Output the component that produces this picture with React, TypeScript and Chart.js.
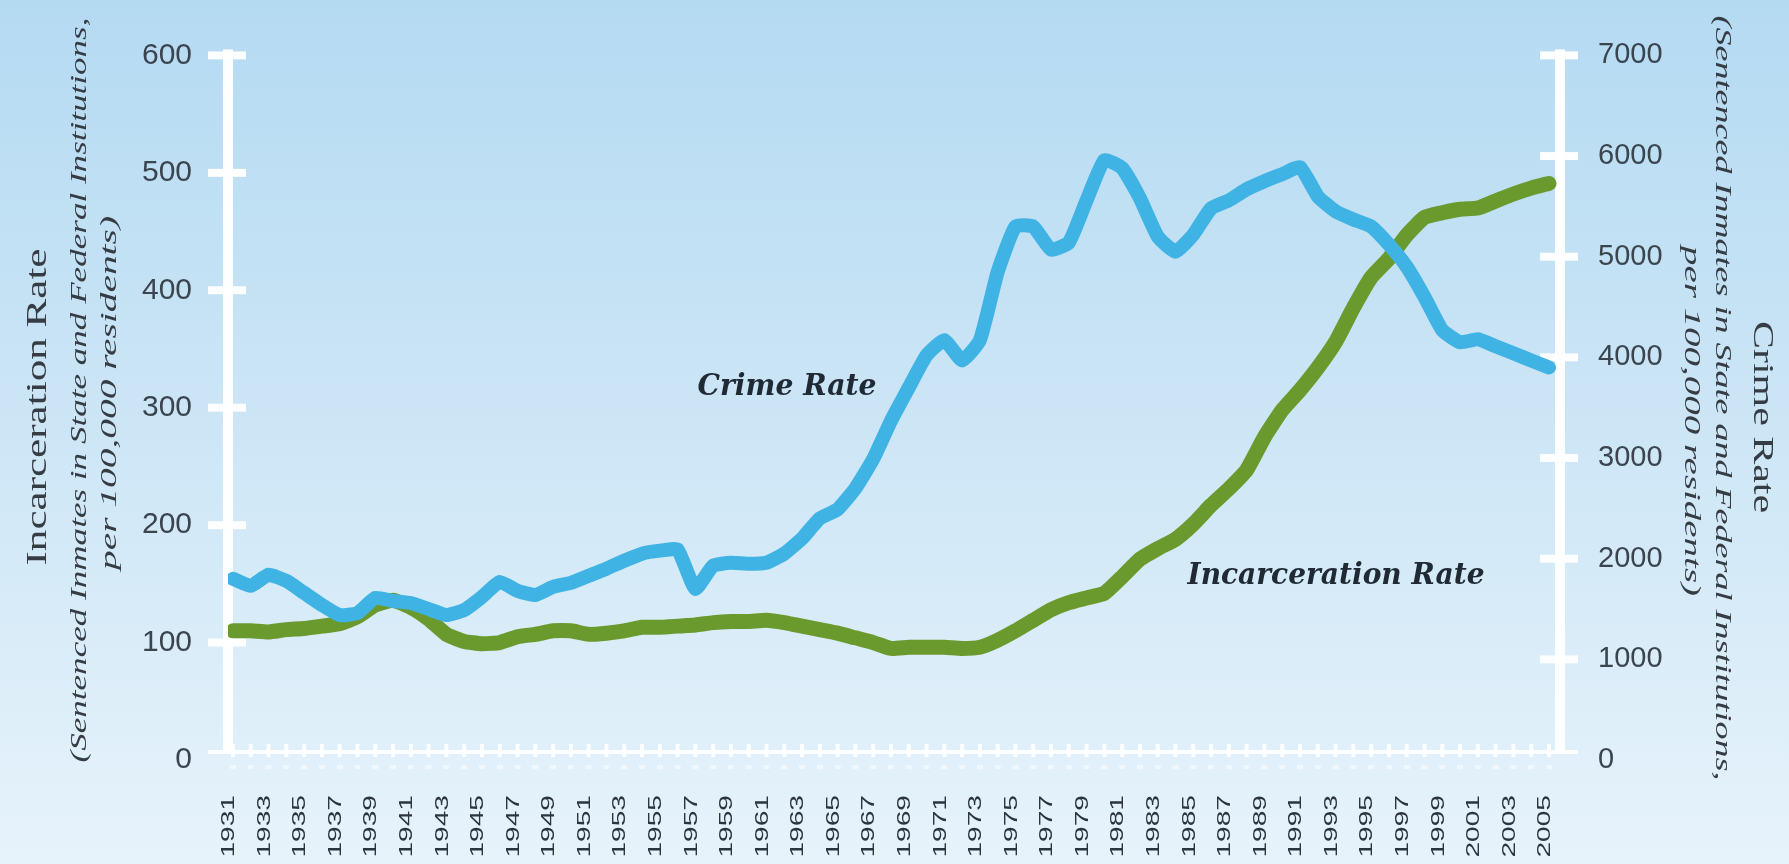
import React, { useEffect, useRef } from "react";
import { Chart, registerables } from "chart.js";

Chart.register(...registerables);

const years = [
  1931, 1932, 1933, 1934, 1935, 1936, 1937, 1938, 1939, 1940,
  1941, 1942, 1943, 1944, 1945, 1946, 1947, 1948, 1949, 1950,
  1951, 1952, 1953, 1954, 1955, 1956, 1957, 1958, 1959, 1960,
  1961, 1962, 1963, 1964, 1965, 1966, 1967, 1968, 1969, 1970,
  1971, 1972, 1973, 1974, 1975, 1976, 1977, 1978, 1979, 1980,
  1981, 1982, 1983, 1984, 1985, 1986, 1987, 1988, 1989, 1990,
  1991, 1992, 1993, 1994, 1995, 1996, 1997, 1998, 1999, 2000,
  2001, 2002, 2003, 2004, 2005,
];

// Crime rate (right axis, per 100,000 residents)
const crimeRate = [
  1800, 1730, 1840, 1780, 1660, 1540, 1440, 1460, 1610, 1580,
  1560, 1500, 1440, 1490, 1620, 1770, 1680, 1640, 1720, 1760,
  1830, 1900, 1980, 2050, 2080, 2090, 1700, 1930, 1960, 1950,
  1960, 2050, 2200, 2400, 2490, 2700, 2990, 3370, 3700, 4020,
  4170, 3970, 4170, 4850, 5300, 5300, 5070, 5140, 5560, 5960,
  5880, 5580, 5200, 5050, 5220, 5480, 5560, 5670, 5750, 5820,
  5890, 5600, 5450, 5370, 5300, 5120, 4900, 4600, 4270, 4150,
  4180, 4110, 4040, 3970, 3900,
];

// Incarceration rate (left axis, per 100,000 residents)
const incarcerationRate = [
  110, 110, 109, 111, 112, 114, 116, 122, 132, 136,
  130, 120, 107, 101, 99, 100, 105, 107, 110, 110,
  107, 108, 110, 113, 113, 114, 115, 117, 118, 118,
  119, 117, 114, 111, 108, 104, 100, 95, 96, 96,
  96, 95, 96, 102, 110, 119, 128, 134, 138, 142,
  156, 171, 180, 188, 201, 217, 231, 247, 275, 298,
  315, 334, 356, 385, 411, 427, 447, 462, 466, 469,
  470, 476, 482, 487, 491,
];

const yearTickLabels = [
  1931, 1933, 1935, 1937, 1939, 1941, 1943, 1945, 1947, 1949,
  1951, 1953, 1955, 1957, 1959, 1961, 1963, 1965, 1967, 1969,
  1971, 1973, 1975, 1977, 1979, 1981, 1983, 1985, 1987, 1989,
  1991, 1993, 1995, 1997, 1999, 2001, 2003, 2005,
];

const leftTitle = "Incarceration Rate";
const rightTitle = "Crime Rate";
const subTitle1 = "(Sentenced Inmates in State and Federal Institutions,";
const subTitle2 = "per 100,000 residents)";
const crimeAnnotation = "Crime Rate";
const incarcerationAnnotation = "Incarceration Rate";

const W = 1789;
const H = 864;

function drawStretched(
  ctx: CanvasRenderingContext2D,
  text: string,
  cx: number,
  cy: number,
  angle: number,
  font: string,
  length: number,
  color: string
) {
  ctx.save();
  ctx.font = font;
  ctx.fillStyle = color;
  ctx.translate(cx, cy);
  ctx.rotate(angle);
  const w = ctx.measureText(text).width;
  ctx.scale(length / w, 1);
  ctx.textAlign = "center";
  ctx.textBaseline = "middle";
  ctx.fillText(text, 0, 0);
  ctx.restore();
}

const decoPlugin = {
  id: "deco",
  beforeDraw(chart: any) {
    const { ctx } = chart;
    const g = ctx.createLinearGradient(0, 0, 0, H);
    g.addColorStop(0, "#b4daf2");
    g.addColorStop(0.5, "#cde6f6");
    g.addColorStop(1, "#e7f3fb");
    ctx.save();
    ctx.fillStyle = g;
    ctx.fillRect(0, 0, W, H);
    ctx.restore();
  },
  beforeDatasetsDraw(chart: any) {
    const { ctx, chartArea, scales } = chart;
    const xs = scales.x;
    ctx.save();
    ctx.fillStyle = "rgba(255,255,255,0.95)";
    const axes = [
      { s: scales.yL, ax: chartArea.left },
      { s: scales.yR, ax: chartArea.right },
    ];
    for (const { s, ax } of axes) {
      ctx.fillRect(ax - 5, s.top - 6, 10, s.bottom - s.top);
      for (const t of s.ticks) {
        const py = s.getPixelForValue(t.value);
        if (t.value === 0) continue;
        ctx.fillRect(ax - 20, py - 4, 38, 8);
      }
    }
    const b = chartArea.bottom;
    for (const yr of years) {
      const px = xs.getPixelForValue(yr);
      ctx.fillStyle = "rgba(255,255,255,0.9)";
      ctx.fillRect(px - 2, b - 16, 4, 13);
      ctx.fillStyle = "rgba(255,255,255,0.55)";
      ctx.fillRect(px - 3, b + 5, 6, 4);
    }
    ctx.fillStyle = "rgba(255,255,255,0.9)";
    ctx.fillRect(chartArea.left - 20, b - 10, chartArea.right - chartArea.left + 38, 4);
    ctx.restore();
  },
  afterDraw(chart: any) {
    const { ctx, scales } = chart;
    const xs = scales.x;
    // x tick labels (rotated, elongated)
    ctx.save();
    ctx.fillStyle = "#2b3540";
    ctx.font = '19px "Liberation Sans", Arial, sans-serif';
    for (const t of xs.ticks) {
      const px = xs.getPixelForValue(t.value);
      ctx.save();
      ctx.translate(px - 4, 795);
      ctx.rotate(-Math.PI / 2);
      ctx.scale(1.48, 1);
      ctx.textAlign = "right";
      ctx.textBaseline = "middle";
      ctx.fillText(String(t.value), 0, 0);
      ctx.restore();
    }
    ctx.restore();

    const titleColor = "#363c44";
    // left titles
    drawStretched(ctx, leftTitle, 38, 407, -Math.PI / 2, '29px "Liberation Serif", serif', 317, titleColor);
    drawStretched(ctx, subTitle1, 80, 390, -Math.PI / 2, 'italic 24px "Liberation Serif", serif', 745, titleColor);
    drawStretched(ctx, subTitle2, 110, 393, -Math.PI / 2, 'italic 24px "Liberation Serif", serif', 354, titleColor);
    // right titles
    drawStretched(ctx, rightTitle, 1762, 417, Math.PI / 2, '29px "Liberation Serif", serif', 192, titleColor);
    drawStretched(ctx, subTitle1, 1722, 398, Math.PI / 2, 'italic 24px "Liberation Serif", serif', 765, titleColor);
    drawStretched(ctx, subTitle2, 1691, 421, Math.PI / 2, 'italic 24px "Liberation Serif", serif', 350, titleColor);

    // annotations
    const annColor = "#1f2a35";
    drawStretched(ctx, crimeAnnotation, 787, 387, 0, 'italic bold 29px "DejaVu Serif", serif', 179, annColor);
    drawStretched(ctx, incarcerationAnnotation, 1336, 576, 0, 'italic bold 29px "DejaVu Serif", serif', 297, annColor);
  },
};

export default function App() {
  const ref = useRef<HTMLCanvasElement | null>(null);

  useEffect(() => {
    document.body.style.margin = "0";
    document.body.style.overflow = "hidden";
    const canvas = ref.current;
    if (!canvas) return;
    const chart = new Chart(canvas, {
      type: "line",
      data: {
        datasets: [
          {
            label: "Crime Rate",
            data: years.map((y, i) => ({ x: y, y: crimeRate[i] })),
            yAxisID: "yR",
            borderColor: "#3fb3e4",
            borderWidth: 14,
            pointRadius: 0,
            tension: 0.15,
            borderCapStyle: "round",
            borderJoinStyle: "round",
            fill: false,
          },
          {
            label: "Incarceration Rate",
            data: years.map((y, i) => ({ x: y, y: incarcerationRate[i] })),
            yAxisID: "yL",
            borderColor: "#6a9a2e",
            borderWidth: 15,
            pointRadius: 0,
            tension: 0.15,
            borderCapStyle: "round",
            borderJoinStyle: "round",
            fill: false,
          },
        ],
      },
      options: {
        animation: false,
        responsive: false,
        devicePixelRatio: 1,
        layout: { padding: { top: 53, left: 0, right: 0, bottom: 0 } },
        plugins: {
          legend: { display: false },
          tooltip: { enabled: false },
          title: { display: false },
        },
        scales: {
          x: {
            type: "linear",
            min: 1930.72,
            max: 2005.62,
            afterBuildTicks: (axis: any) => {
              axis.ticks = yearTickLabels.map((v) => ({ value: v }));
            },
            afterFit: (axis: any) => {
              axis.height = 104;
            },
            grid: { display: false },
            border: { display: false },
            ticks: {
              autoSkip: false,
              maxRotation: 90,
              minRotation: 90,
              color: "rgba(0,0,0,0)",
              font: { size: 17 },
            },
          },
          yL: {
            type: "linear",
            position: "left",
            min: 0,
            max: 600,
            ticks: {
              stepSize: 100,
              padding: 36,
              color: "#3a4550",
              font: { family: '"Liberation Sans", Arial, sans-serif', size: 30 },
              callback: (v: any) => String(v),
            },
            afterFit: (axis: any) => {
              axis.width = 228;
            },
            grid: { drawOnChartArea: false, drawTicks: false, display: false },
            border: { display: false },
          },
          yR: {
            type: "linear",
            position: "right",
            min: 0,
            max: 7000,
            ticks: {
              stepSize: 1000,
              padding: 38,
              color: "#3a4550",
              font: { family: '"Liberation Sans", Arial, sans-serif', size: 29 },
              callback: (v: any) => String(v),
            },
            afterFit: (axis: any) => {
              axis.width = W - 1560;
            },
            grid: { drawOnChartArea: false, drawTicks: false, display: false },
            border: { display: false },
          },
        },
      },
      plugins: [decoPlugin],
    } as any);
    return () => chart.destroy();
  }, []);

  return (
    <div style={{ width: W, height: H }}>
      <canvas ref={ref} width={W} height={H} style={{ display: "block", width: W, height: H }} />
    </div>
  );
}
